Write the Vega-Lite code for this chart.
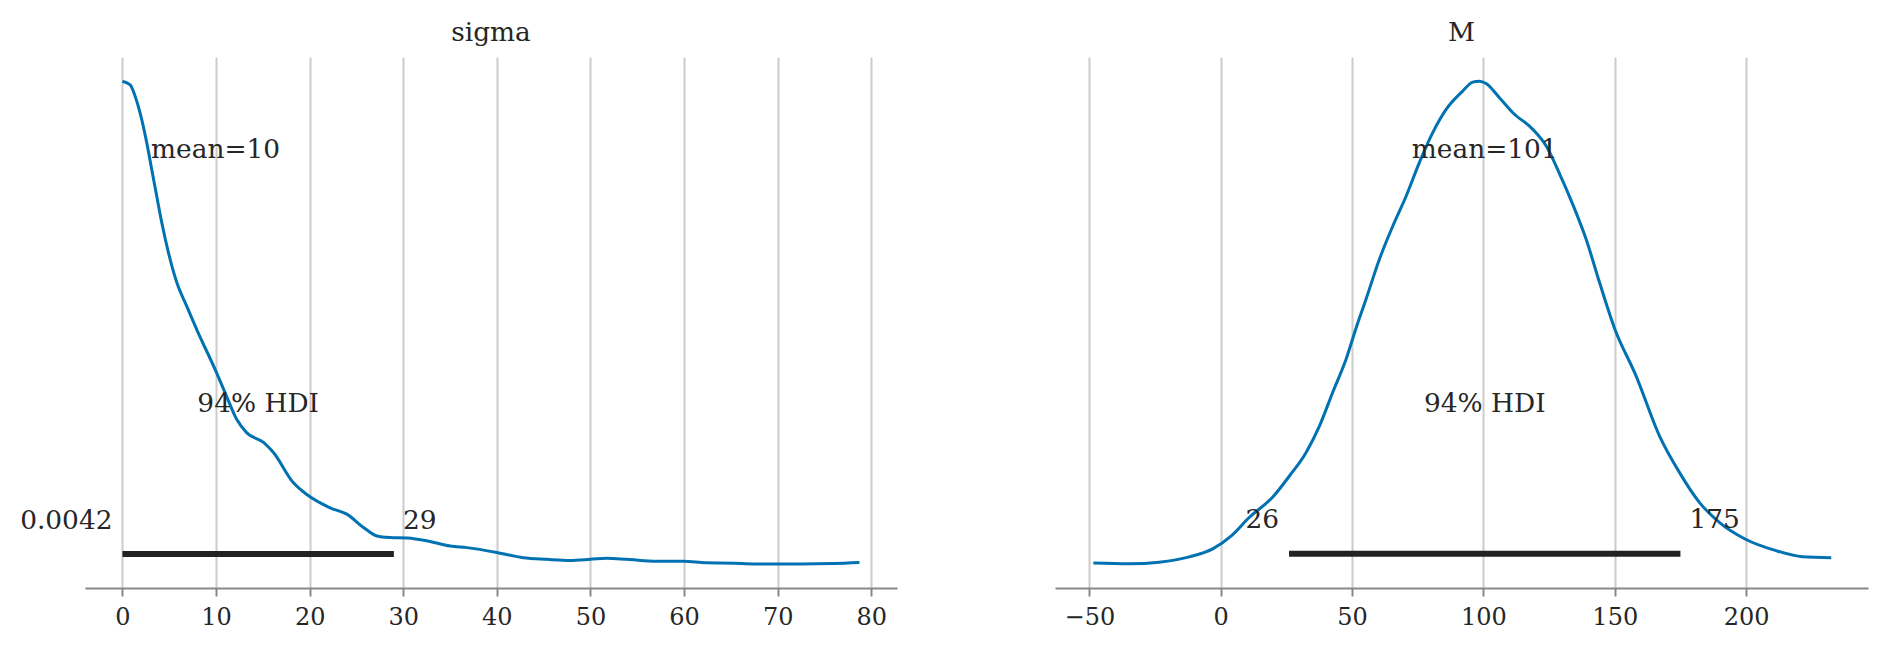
{
  "$schema": "https://vega.github.io/schema/vega-lite/v6.json",
  "background": "white",
  "padding": {"left": 20, "top": 20, "right": 10, "bottom": 5},
  "bounds": "flush",
  "spacing": 158,
  "config": {
    "font": "DejaVu Serif",
    "view": {"stroke": null},
    "axis": {
      "domainColor": "#888888",
      "domainWidth": 2.2,
      "tickColor": "#888888",
      "tickWidth": 2,
      "tickSize": 8,
      "labelFont": "DejaVu Serif",
      "labelFontSize": 24,
      "labelColor": "#262626",
      "labelPadding": 9,
      "grid": true,
      "gridColor": "#cccccc",
      "gridWidth": 2,
      "labelFlush": false,
      "labelOverlap": false
    },
    "title": {
      "font": "DejaVu Serif",
      "fontSize": 26.4,
      "fontWeight": "normal",
      "color": "#262626",
      "baseline": "alphabetic",
      "offset": 10.5,
      "anchor": "middle"
    },
    "text": {"font": "DejaVu Serif", "fontSize": 26.4, "color": "#262626", "baseline": "alphabetic"}
  },
  "datasets": {
    "sigma_kde": [
      {"x": 0, "density": 0.0909},
      {"x": 0.83, "density": 0.0902},
      {"x": 1.37, "density": 0.088},
      {"x": 1.89, "density": 0.0849},
      {"x": 2.6, "density": 0.0793},
      {"x": 3.14, "density": 0.0742},
      {"x": 3.67, "density": 0.0692},
      {"x": 4.21, "density": 0.0642},
      {"x": 4.92, "density": 0.0586},
      {"x": 5.81, "density": 0.053},
      {"x": 6.88, "density": 0.0485},
      {"x": 7.95, "density": 0.0441},
      {"x": 9.91, "density": 0.0366},
      {"x": 10.98, "density": 0.0322},
      {"x": 12.22, "density": 0.0272},
      {"x": 13.29, "density": 0.0247},
      {"x": 15.07, "density": 0.0229},
      {"x": 16.13, "density": 0.021},
      {"x": 18.27, "density": 0.0153},
      {"x": 19.7, "density": 0.0131},
      {"x": 22.19, "density": 0.0106},
      {"x": 23.97, "density": 0.0094},
      {"x": 25.75, "density": 0.0069},
      {"x": 27.18, "density": 0.0053},
      {"x": 28.6, "density": 0.005},
      {"x": 30.4, "density": 0.0049},
      {"x": 32.5, "density": 0.0044},
      {"x": 35.01, "density": 0.0034},
      {"x": 36.8, "density": 0.0031},
      {"x": 40, "density": 0.0022},
      {"x": 42.84, "density": 0.0012},
      {"x": 45.34, "density": 0.0009},
      {"x": 47.8, "density": 0.0007},
      {"x": 50, "density": 0.0009},
      {"x": 51.75, "density": 0.0011},
      {"x": 53.9, "density": 0.0009},
      {"x": 57.1, "density": 0.00054},
      {"x": 59.9, "density": 0.00054},
      {"x": 62.4, "density": 0.00023},
      {"x": 65.3, "density": 0.00017},
      {"x": 67.4, "density": 0.00004},
      {"x": 72.4, "density": 0.00004},
      {"x": 75.97, "density": 0.00011},
      {"x": 78.74, "density": 0.0003}
    ],
    "M_kde": [
      {"x": -48.5, "density": 0.000016},
      {"x": -34.9, "density": 0.0},
      {"x": -23.4, "density": 0.000034},
      {"x": -12.0, "density": 0.00014},
      {"x": -2.9, "density": 0.000306},
      {"x": 3.9, "density": 0.000556},
      {"x": 10.8, "density": 0.000928},
      {"x": 19.9, "density": 0.001344},
      {"x": 26.2, "density": 0.001764},
      {"x": 32.5, "density": 0.002232},
      {"x": 37.6, "density": 0.002764},
      {"x": 42.6, "density": 0.003432},
      {"x": 47.7, "density": 0.004098},
      {"x": 51.5, "density": 0.004718},
      {"x": 55.3, "density": 0.005298},
      {"x": 60.4, "density": 0.006098},
      {"x": 65.5, "density": 0.006764},
      {"x": 70.6, "density": 0.007364},
      {"x": 75.6, "density": 0.008032},
      {"x": 80.7, "density": 0.008632},
      {"x": 85.8, "density": 0.009098},
      {"x": 92.1, "density": 0.009464},
      {"x": 95.9, "density": 0.009644},
      {"x": 98.5, "density": 0.009664},
      {"x": 101.0, "density": 0.009618},
      {"x": 106.1, "density": 0.009332},
      {"x": 111.2, "density": 0.009032},
      {"x": 118.8, "density": 0.008698},
      {"x": 123.9, "density": 0.008364},
      {"x": 128.9, "density": 0.007818},
      {"x": 134.0, "density": 0.007198},
      {"x": 139.1, "density": 0.006498},
      {"x": 144.2, "density": 0.005632},
      {"x": 149.9, "density": 0.004718},
      {"x": 158.1, "density": 0.003764},
      {"x": 167.0, "density": 0.002564},
      {"x": 174.6, "density": 0.001832},
      {"x": 182.2, "density": 0.001232},
      {"x": 189.8, "density": 0.000832},
      {"x": 199.6, "density": 0.000498},
      {"x": 211.4, "density": 0.000264},
      {"x": 221.5, "density": 0.000144},
      {"x": 232.4, "density": 0.000124}
    ],
    "summary": [
      {"param": "sigma", "mean": 9.95, "mean_label": "mean=10", "hdi_low": 0.0042, "hdi_high": 29, "low_label": "0.0042", "high_label": "29", "hdi_label": "94% HDI"},
      {"param": "M", "mean": 100.5, "mean_label": "mean=101", "hdi_low": 26, "hdi_high": 175, "low_label": "26", "high_label": "175", "hdi_label": "94% HDI"}
    ]
  },
  "hconcat": [
    {
      "width": 812,
      "height": 531,
      "title": "sigma",
      "layer": [
        {
          "data": {"name": "sigma_kde"},
          "mark": {"type": "line", "color": "#0072b2", "strokeWidth": 3, "interpolate": "monotone"},
          "encoding": {
            "x": {"field": "x", "type": "quantitative", "scale": {"domain": [-4.0, 82.75], "nice": false, "zero": false}, "axis": {"values": [0, 10, 20, 30, 40, 50, 60, 70, 80], "title": null}},
            "y": {"field": "density", "type": "quantitative", "scale": {"domain": [-0.0045, 0.09546], "nice": false, "zero": false}, "axis": null}
          }
        },
        {
          "data": {"name": "summary"},
          "transform": [{"filter": "datum.param === 'sigma'"}],
          "mark": {"type": "rule", "color": "#222222", "strokeWidth": 6, "strokeCap": "butt"},
          "encoding": {
            "x": {"field": "hdi_low", "type": "quantitative", "scale": {"domain": [-4.0, 82.75], "nice": false, "zero": false}, "axis": {"values": [0, 10, 20, 30, 40, 50, 60, 70, 80], "title": null}},
            "x2": {"field": "hdi_high"},
            "y": {"datum": 0.00191, "type": "quantitative", "scale": {"domain": [-0.0045, 0.09546], "nice": false, "zero": false}, "axis": null}
          }
        },
        {
          "data": {"name": "summary"},
          "transform": [{"filter": "datum.param === 'sigma'"}],
          "mark": {"type": "text", "align": "right", "dx": -10},
          "encoding": {
            "x": {"field": "hdi_low", "type": "quantitative", "scale": {"domain": [-4.0, 82.75], "nice": false, "zero": false}, "axis": {"values": [0, 10, 20, 30, 40, 50, 60, 70, 80], "title": null}},
            "y": {"datum": 0.00668, "type": "quantitative", "scale": {"domain": [-0.0045, 0.09546], "nice": false, "zero": false}, "axis": null},
            "text": {"field": "low_label"}
          }
        },
        {
          "data": {"name": "summary"},
          "transform": [{"filter": "datum.param === 'sigma'"}],
          "mark": {"type": "text", "align": "left", "dx": 9},
          "encoding": {
            "x": {"field": "hdi_high", "type": "quantitative", "scale": {"domain": [-4.0, 82.75], "nice": false, "zero": false}, "axis": {"values": [0, 10, 20, 30, 40, 50, 60, 70, 80], "title": null}},
            "y": {"datum": 0.00668, "type": "quantitative", "scale": {"domain": [-0.0045, 0.09546], "nice": false, "zero": false}, "axis": null},
            "text": {"field": "high_label"}
          }
        },
        {
          "data": {"name": "summary"},
          "transform": [{"filter": "datum.param === 'sigma'"}, {"calculate": "(datum.hdi_low + datum.hdi_high) / 2", "as": "hdi_mid"}],
          "mark": {"type": "text", "align": "center"},
          "encoding": {
            "x": {"field": "hdi_mid", "type": "quantitative", "scale": {"domain": [-4.0, 82.75], "nice": false, "zero": false}, "axis": {"values": [0, 10, 20, 30, 40, 50, 60, 70, 80], "title": null}},
            "y": {"datum": 0.02864, "type": "quantitative", "scale": {"domain": [-0.0045, 0.09546], "nice": false, "zero": false}, "axis": null},
            "text": {"field": "hdi_label"}
          }
        },
        {
          "data": {"name": "summary"},
          "transform": [{"filter": "datum.param === 'sigma'"}],
          "mark": {"type": "text", "align": "center"},
          "encoding": {
            "x": {"field": "mean", "type": "quantitative", "scale": {"domain": [-4.0, 82.75], "nice": false, "zero": false}, "axis": {"values": [0, 10, 20, 30, 40, 50, 60, 70, 80], "title": null}},
            "y": {"datum": 0.07637, "type": "quantitative", "scale": {"domain": [-0.0045, 0.09546], "nice": false, "zero": false}, "axis": null},
            "text": {"field": "mean_label"}
          }
        }
      ]
    },
    {
      "width": 813,
      "height": 531,
      "title": "M",
      "layer": [
        {
          "data": {"name": "M_kde"},
          "mark": {"type": "line", "color": "#0072b2", "strokeWidth": 3, "interpolate": "monotone"},
          "encoding": {
            "x": {"field": "x", "type": "quantitative", "scale": {"domain": [-63.1, 246.4], "nice": false, "zero": false}, "axis": {"values": [-50, 0, 50, 100, 150, 200], "title": null}},
            "y": {"field": "density", "type": "quantitative", "scale": {"domain": [-0.000483, 0.010147], "nice": false, "zero": false}, "axis": null}
          }
        },
        {
          "data": {"name": "summary"},
          "transform": [{"filter": "datum.param === 'M'"}],
          "mark": {"type": "rule", "color": "#222222", "strokeWidth": 6, "strokeCap": "butt"},
          "encoding": {
            "x": {"field": "hdi_low", "type": "quantitative", "scale": {"domain": [-63.1, 246.4], "nice": false, "zero": false}, "axis": {"values": [-50, 0, 50, 100, 150, 200], "title": null}},
            "x2": {"field": "hdi_high"},
            "y": {"datum": 0.000203, "type": "quantitative", "scale": {"domain": [-0.000483, 0.010147], "nice": false, "zero": false}, "axis": null}
          }
        },
        {
          "data": {"name": "summary"},
          "transform": [{"filter": "datum.param === 'M'"}],
          "mark": {"type": "text", "align": "right", "dx": -10},
          "encoding": {
            "x": {"field": "hdi_low", "type": "quantitative", "scale": {"domain": [-63.1, 246.4], "nice": false, "zero": false}, "axis": {"values": [-50, 0, 50, 100, 150, 200], "title": null}},
            "y": {"datum": 0.00071, "type": "quantitative", "scale": {"domain": [-0.000483, 0.010147], "nice": false, "zero": false}, "axis": null},
            "text": {"field": "low_label"}
          }
        },
        {
          "data": {"name": "summary"},
          "transform": [{"filter": "datum.param === 'M'"}],
          "mark": {"type": "text", "align": "left", "dx": 9},
          "encoding": {
            "x": {"field": "hdi_high", "type": "quantitative", "scale": {"domain": [-63.1, 246.4], "nice": false, "zero": false}, "axis": {"values": [-50, 0, 50, 100, 150, 200], "title": null}},
            "y": {"datum": 0.00071, "type": "quantitative", "scale": {"domain": [-0.000483, 0.010147], "nice": false, "zero": false}, "axis": null},
            "text": {"field": "high_label"}
          }
        },
        {
          "data": {"name": "summary"},
          "transform": [{"filter": "datum.param === 'M'"}, {"calculate": "(datum.hdi_low + datum.hdi_high) / 2", "as": "hdi_mid"}],
          "mark": {"type": "text", "align": "center"},
          "encoding": {
            "x": {"field": "hdi_mid", "type": "quantitative", "scale": {"domain": [-63.1, 246.4], "nice": false, "zero": false}, "axis": {"values": [-50, 0, 50, 100, 150, 200], "title": null}},
            "y": {"datum": 0.003044, "type": "quantitative", "scale": {"domain": [-0.000483, 0.010147], "nice": false, "zero": false}, "axis": null},
            "text": {"field": "hdi_label"}
          }
        },
        {
          "data": {"name": "summary"},
          "transform": [{"filter": "datum.param === 'M'"}],
          "mark": {"type": "text", "align": "center"},
          "encoding": {
            "x": {"field": "mean", "type": "quantitative", "scale": {"domain": [-63.1, 246.4], "nice": false, "zero": false}, "axis": {"values": [-50, 0, 50, 100, 150, 200], "title": null}},
            "y": {"datum": 0.008118, "type": "quantitative", "scale": {"domain": [-0.000483, 0.010147], "nice": false, "zero": false}, "axis": null},
            "text": {"field": "mean_label"}
          }
        }
      ]
    }
  ]
}
